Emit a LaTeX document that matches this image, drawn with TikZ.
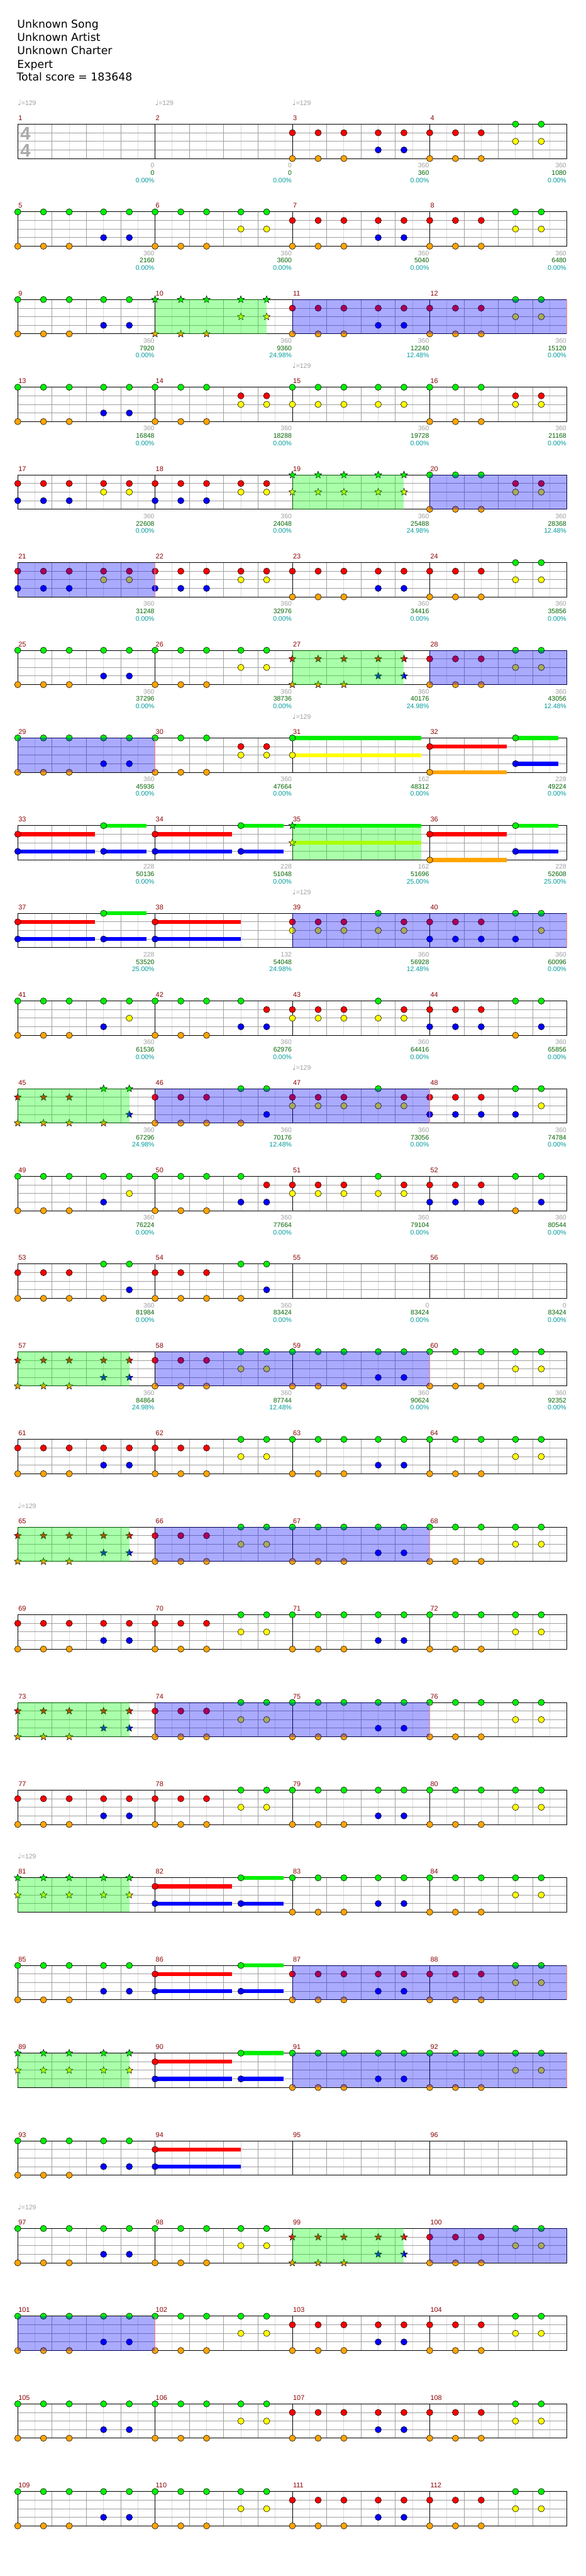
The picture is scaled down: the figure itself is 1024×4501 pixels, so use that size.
\documentclass[tikz,border=0pt]{standalone}
\usepackage{fontspec}
\setmainfont{DejaVu Sans}
\newfontfamily\smallf{Liberation Sans}
\newfontfamily\djv{DejaVu Sans}
\usetikzlibrary{shapes.geometric}
\definecolor{lane0}{RGB}{0,240,0}
\definecolor{lane1}{RGB}{255,0,0}
\definecolor{lane2}{RGB}{255,255,0}
\definecolor{lane3}{RGB}{0,0,255}
\definecolor{lane4}{RGB}{255,165,0}
\definecolor{gridlight}{RGB}{220,220,220}
\definecolor{gridmid}{RGB}{160,160,160}
\definecolor{mnum}{RGB}{140,0,0}
\definecolor{sgray}{RGB}{160,160,160}
\definecolor{sgreen}{RGB}{0,100,0}
\definecolor{steal}{RGB}{0,155,155}
\definecolor{tsig}{RGB}{170,170,170}
\definecolor{spgreen}{RGB}{0,255,0}
\definecolor{spblue}{RGB}{0,0,255}
\definecolor{spend}{RGB}{255,130,130}
\tikzset{
  note/.style={circle, draw=black, line width=0.6pt, fill=lane#1, minimum size=11pt, inner sep=0pt},
  starnote/.style={star, star points=5, star point ratio=2.3, draw=black, line width=0.6pt, fill=lane#1, minimum size=13pt, inner sep=0pt},
  mnumst/.style={font=\smallf\fontsize{12}{12}\selectfont, text=mnum, anchor=base west, inner sep=0pt},
  scst/.style={font=\smallf\fontsize{11.5}{11.5}\selectfont, anchor=base east, inner sep=0pt},
  head/.style={font=\fontsize{19}{19}\selectfont, anchor=base west, inner sep=0pt},
  tempost/.style={font=\smallf\fontsize{11.5}{11.5}\selectfont, text=sgray, anchor=base west, inner sep=0pt},
}
\newcommand\setm[1]{\pgfmathtruncatemacro\rw{(#1-1)/4}\pgfmathtruncatemacro\cl{mod(#1-1,4)}\pgfmathsetmacro\mx{31+\cl*240}\pgfmathsetmacro\my{217+\rw*153.2}}
\newcommand\chd[4]{\setm{#1}\foreach \l in {#3}{\node[#4=\l] at (\mx+#2*15,\my+\l*15) {};}}
\newcommand\five[7]{\chd{#1}{0}{#3}{#2}\chd{#1}{3}{#4}{#2}\chd{#1}{6}{#5}{#2}\chd{#1}{10}{#6}{#2}\chd{#1}{13}{#7}{#2}}
\newcommand\patA[2]{\five{#1}{#2}{1,4}{1,4}{1,4}{1,3}{1,3}}
\newcommand\patB[2]{\five{#1}{#2}{1,4}{1,4}{1,4}{0,2}{0,2}}
\newcommand\patC[2]{\five{#1}{#2}{0,4}{0,4}{0,4}{0,3}{0,3}}
\newcommand\patD[2]{\five{#1}{#2}{0,4}{0,4}{0,4}{0,2}{0,2}}
\newcommand\patE[2]{\five{#1}{#2}{0,4}{0,4}{0,4}{1,2}{1,2}}
\newcommand\patF[2]{\five{#1}{#2}{0,2}{0,2}{0,2}{0,2}{0,2}}
\newcommand\patH[2]{\five{#1}{#2}{1,3}{1,3}{1,3}{1,2}{1,2}}
\newcommand\patI[2]{\five{#1}{#2}{1,2}{1,2}{1,2}{0,2}{1,2}}
\newcommand\patJ[2]{\five{#1}{#2}{1,3}{1,3}{1,3}{0,3}{0,2}}
\newcommand\patK[2]{\five{#1}{#2}{0,4}{0,4}{0,4}{0,3}{0,2}}
\newcommand\patL[2]{\five{#1}{#2}{0,4}{0,4}{0,4}{0,3}{1,3}}
\newcommand\patM[2]{\five{#1}{#2}{1,3}{1,3}{1,3}{0,4}{0,3}}
\newcommand\patN[2]{\five{#1}{#2}{1,4}{1,4}{1,4}{0,4}{0,3}}
\newcommand\susn[5]{\setm{#1}\foreach \l in {#3}{\fill[fill=lane\l] (\mx+#2*15,\my+\l*15-3.5) rectangle (\mx+#4*15,\my+\l*15+3.5);}\chd{#1}{#2}{#3}{#5}}
\newcommand\ovl[5]{\setm{#4}\let\xb\mx\setm{#2}\fill[fill=#1, fill opacity=0.333] (\mx+#3*15,\my) rectangle (\xb+#5*15,\my+60);}
\newcommand\bend[2]{\setm{#1}\draw[spend, line width=1pt] (\mx+#2*15,\my) -- ++(0,60);}
\begin{document}
\begin{tikzpicture}[x=1pt,y=-1pt]
\fill[white] (0,0) rectangle (1024,4501);
\useasboundingbox (0,0) rectangle (1024,4501);
% header
\node[head] (t1) at (30,49) {Unknown Song};
\node[head] (t2) at (30,72) {Unknown Artist};
\node[head] (t3) at (30,95.5) {Unknown Charter};
\node[head] (t4) at (30,119) {Expert};
\node[head] (t5) at (29,141.5) {Total score = 183648};
% grids
\foreach \r in {0,...,27}{
  \pgfmathsetmacro\ry{217+\r*153.2}
  \foreach \k in {1,3,...,31} \draw[gridlight, line width=1pt] (31+\k*30,\ry) -- ++(0,60);
  \foreach \k in {2,4,6,10,12,14,18,20,22,26,28,30} \draw[gridmid, line width=1pt] (31+\k*30,\ry) -- ++(0,60);
  \foreach \s in {15,30,45} \draw[gridmid, line width=1pt] (31,\ry+\s) -- ++(960,0);
  \draw[black, line width=1pt] (31,\ry) rectangle ++(960,60);
  \foreach \k in {8,16,24} \draw[black, line width=1pt] (31+\k*30,\ry) -- ++(0,60);
}
% time signature
\node[font=\smallf\bfseries\fontsize{32}{32}\selectfont, text=tsig, inner sep=0pt] (ts1) at (44.5,233.5) {4};
\node[font=\smallf\bfseries\fontsize{32}{32}\selectfont, text=tsig, inner sep=0pt] (ts2) at (44.5,263) {4};
% notes
\foreach \m/\p in {3/A,4/B,5/C,6/D,7/A,8/B,9/C,11/A,12/B,13/C,14/E,15/F,16/E,17/H,18/H,20/E,
  21/H,22/H,23/A,24/B,25/C,26/D,28/B,29/C,30/E,39/I,40/J,41/K,42/L,43/I,44/M,46/N,47/I,48/J,
  49/K,50/L,51/I,52/M,53/N,54/N,58/B,59/C,60/D,
  61/A,62/B,63/C,64/D,66/B,67/C,68/D,69/A,70/B,71/C,72/D,74/B,75/C,76/D,77/A,78/B,79/C,80/D,
  83/C,84/D,85/C,87/A,88/B,91/C,92/D,93/C,97/C,98/D,100/B,101/C,102/D,103/A,104/B,
  105/C,106/D,107/A,108/B,109/C,110/D,111/A,112/B}{\csname pat\p\endcsname{\m}{note}}
\foreach \m/\p in {10/D,19/F,27/A,45/N,57/A,65/A,73/A,81/F,89/F,99/A}{\csname pat\p\endcsname{\m}{starnote}}
% sustains
\susn{31}{0}{0,2}{15}{note}
\susn{32}{0}{1,4}{9}{note}\susn{32}{10}{0,3}{15}{note}
\susn{33}{0}{1,3}{9}{note}\susn{33}{10}{0,3}{15}{note}
\susn{34}{0}{1,3}{9}{note}\susn{34}{10}{0,3}{15}{note}
\susn{35}{0}{0,2}{15}{starnote}
\susn{36}{0}{1,4}{9}{note}\susn{36}{10}{0,3}{15}{note}
\susn{37}{0}{1,3}{9}{note}\susn{37}{10}{0,3}{15}{note}
\susn{38}{0}{1,3}{10}{note}
\susn{82}{0}{1,3}{9}{note}\susn{82}{10}{0,3}{15}{note}
\susn{86}{0}{1,3}{9}{note}\susn{86}{10}{0,3}{15}{note}
\susn{90}{0}{1,3}{9}{note}\susn{90}{10}{0,3}{15}{note}
\susn{94}{0}{1,3}{10}{note}
% star power overlays
\foreach \m/\e in {10/13,19/13,27/13,35/15,45/13,57/13,65/13,73/13,81/13,89/13,99/13}{\ovl{spgreen}{\m}{0}{\m}{\e}}
\ovl{spblue}{11}{0}{12}{16}\bend{12}{16}
\ovl{spblue}{20}{0}{20}{16}\ovl{spblue}{21}{0}{21}{16}\bend{21}{16}
\ovl{spblue}{28}{0}{28}{16}\ovl{spblue}{29}{0}{29}{16}\bend{29}{16}
\ovl{spblue}{39}{0}{40}{16}\bend{40}{16}
\ovl{spblue}{46}{0}{47}{16}\bend{47}{16}
\ovl{spblue}{58}{0}{59}{16}\bend{59}{16}
\ovl{spblue}{66}{0}{67}{16}\bend{67}{16}
\ovl{spblue}{74}{0}{75}{16}\bend{75}{16}
\ovl{spblue}{87}{0}{88}{16}\bend{88}{16}
\ovl{spblue}{91}{0}{92}{16}\bend{92}{16}
\ovl{spblue}{100}{0}{100}{16}\ovl{spblue}{101}{0}{101}{16}\bend{101}{16}
% measure numbers
\foreach \m in {1,...,112}{\setm{\m}\node[mnumst] at (\mx+1,\my-6.5) {\m};}
% tempo marks
\foreach \m in {1,2,3,15,31,39,47,65,81,97}{\setm{\m}\node[tempost] at (\mx,\my-33) {{\djv\fontsize{13}{13}\selectfont ♩}=129};}
% scores
\foreach \m/\g/\s/\p in {1/0/0/0.00, 2/0/0/0.00, 3/360/360/0.00, 4/360/1080/0.00,
5/360/2160/0.00, 6/360/3600/0.00, 7/360/5040/0.00, 8/360/6480/0.00,
9/360/7920/0.00, 10/360/9360/24.98, 11/360/12240/12.48, 12/360/15120/0.00,
13/360/16848/0.00, 14/360/18288/0.00, 15/360/19728/0.00, 16/360/21168/0.00,
17/360/22608/0.00, 18/360/24048/0.00, 19/360/25488/24.98, 20/360/28368/12.48,
21/360/31248/0.00, 22/360/32976/0.00, 23/360/34416/0.00, 24/360/35856/0.00,
25/360/37296/0.00, 26/360/38736/0.00, 27/360/40176/24.98, 28/360/43056/12.48,
29/360/45936/0.00, 30/360/47664/0.00, 31/162/48312/0.00, 32/228/49224/0.00,
33/228/50136/0.00, 34/228/51048/0.00, 35/162/51696/25.00, 36/228/52608/25.00,
37/228/53520/25.00, 38/132/54048/24.98, 39/360/56928/12.48, 40/360/60096/0.00,
41/360/61536/0.00, 42/360/62976/0.00, 43/360/64416/0.00, 44/360/65856/0.00,
45/360/67296/24.98, 46/360/70176/12.48, 47/360/73056/0.00, 48/360/74784/0.00,
49/360/76224/0.00, 50/360/77664/0.00, 51/360/79104/0.00, 52/360/80544/0.00,
53/360/81984/0.00, 54/360/83424/0.00, 55/0/83424/0.00, 56/0/83424/0.00,
57/360/84864/24.98, 58/360/87744/12.48, 59/360/90624/0.00, 60/360/92352/0.00}{
  \setm{\m}
  \node[scst, text=sgray] at (\mx+239,\my+76) {\g};
  \node[scst, text=sgreen] at (\mx+239,\my+89) {\s};
  \node[scst, text=steal] at (\mx+239,\my+101.7) {\p\%};
}
\end{tikzpicture}
\end{document}
